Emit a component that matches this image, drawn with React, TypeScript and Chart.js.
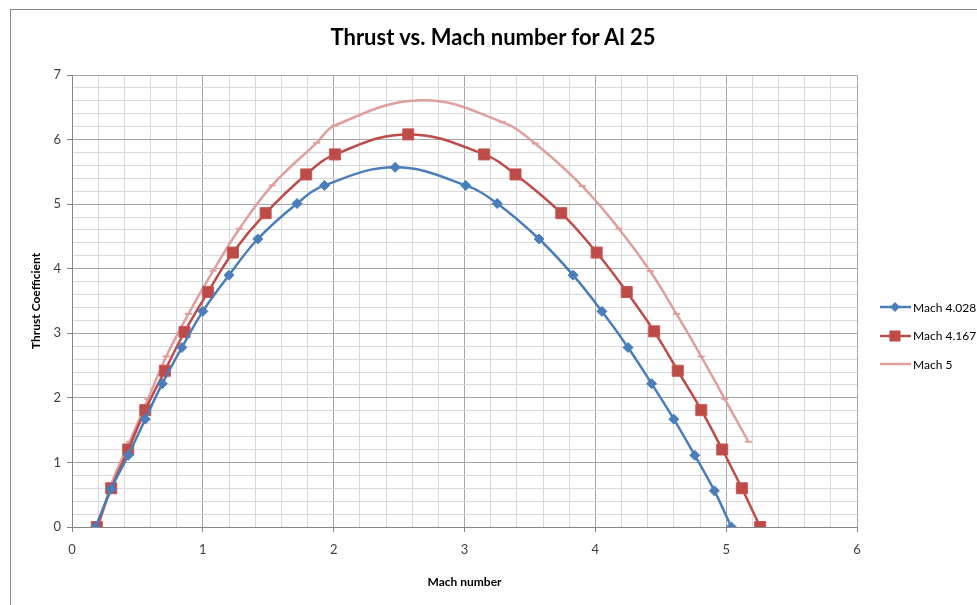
import React, { useEffect, useRef } from 'react';
import { Chart, registerables } from 'chart.js';

Chart.register(...registerables);

const TITLE = 'Thrust vs. Mach number for Al 25';
const X_TITLE = 'Mach number';
const Y_TITLE = 'Thrust Coefficient';
const SERIES_NAMES = ['Mach 4.028', 'Mach 4.167', 'Mach 5'];
const SERIES_COLORS = ['#4A7EBB', '#BE4B48', '#DE9F9D'];

const machA = [0.18, 0.3, 0.43, 0.56, 0.69, 0.84, 1.0, 1.2, 1.42, 1.72, 1.93, 2.47, 3.01, 3.25, 3.57, 3.83, 4.05, 4.25, 4.43, 4.6, 4.76, 4.91, 5.04];
const thrustA = [0, 0.59, 1.11, 1.67, 2.22, 2.78, 3.34, 3.9, 4.46, 5.01, 5.29, 5.57, 5.29, 5.01, 4.46, 3.9, 3.34, 2.78, 2.22, 1.67, 1.11, 0.56, 0];

const machB = [0.19, 0.3, 0.43, 0.56, 0.71, 0.86, 1.04, 1.23, 1.48, 1.79, 2.01, 2.57, 3.15, 3.39, 3.74, 4.01, 4.24, 4.45, 4.63, 4.81, 4.97, 5.12, 5.26];
const thrustB = [0, 0.6, 1.2, 1.81, 2.42, 3.02, 3.64, 4.25, 4.86, 5.46, 5.77, 6.08, 5.77, 5.46, 4.86, 4.25, 3.64, 3.03, 2.42, 1.81, 1.2, 0.6, 0];

const machC = [0.2, 0.3, 0.44, 0.58, 0.72, 0.89, 1.08, 1.28, 1.53, 1.87, 2.01, 2.67, 3.29, 3.54, 3.9, 4.18, 4.42, 4.62, 4.81, 4.99, 5.17];
const thrustC = [0, 0.66, 1.32, 1.98, 2.64, 3.3, 3.97, 4.62, 5.29, 5.95, 6.22, 6.61, 6.27, 5.94, 5.28, 4.62, 3.96, 3.3, 2.64, 1.98, 1.32];

const X_MIN = 0, X_MAX = 6, Y_MIN = 0, Y_MAX = 7, MINOR_STEP = 0.2;

const FONT = "Lato, 'Open Sans', sans-serif";

const isMajor = (v: number) => Math.abs(v - Math.round(v)) < 1e-6;

export default function App() {
  const ref = useRef<HTMLCanvasElement | null>(null);

  useEffect(() => {
    if (!ref.current) return;
    const toPts = (xs: number[], ys: number[]) => xs.map((x, i) => ({ x, y: ys[i] }));
    const gridColor = (ctx: any) => (ctx.tick && isMajor(ctx.tick.value) ? '#A6A6A6' : '#D9D9D9');
    const tickColor = (ctx: any) => (ctx.tick && isMajor(ctx.tick.value) ? '#868686' : 'rgba(0,0,0,0)');
    const label = (v: any) => (isMajor(Number(v)) ? String(Math.round(Number(v))) : '');

    const chart = new Chart(ref.current, {
      type: 'line',
      data: {
        datasets: [
          {
            label: SERIES_NAMES[0],
            data: toPts(machA, thrustA),
            borderColor: SERIES_COLORS[0],
            backgroundColor: SERIES_COLORS[0],
            borderWidth: 2.5,
            pointStyle: 'rectRot',
            pointRadius: 5,
            pointBorderWidth: 1,
            tension: 0.4,
          },
          {
            label: SERIES_NAMES[1],
            data: toPts(machB, thrustB),
            borderColor: SERIES_COLORS[1],
            backgroundColor: SERIES_COLORS[1],
            borderWidth: 2.5,
            pointStyle: 'rect',
            pointRadius: 7.8,
            pointBorderWidth: 1,
            pointBorderColor: '#C55A57',
            tension: 0.4,
          },
          {
            label: SERIES_NAMES[2],
            data: toPts(machC, thrustC),
            borderColor: SERIES_COLORS[2],
            backgroundColor: SERIES_COLORS[2],
            borderWidth: 2.5,
            pointStyle: 'line',
            pointRadius: 3.5,
            pointBorderWidth: 2,
            tension: 0.4,
          },
        ],
      },
      options: {
        responsive: false,
        animation: false,
        layout: { padding: { top: 75, right: 120, left: 0, bottom: 0 } },
        plugins: {
          legend: { display: false },
          title: { display: false },
          tooltip: { enabled: false },
        },
        scales: {
          x: {
            type: 'linear',
            min: X_MIN,
            max: X_MAX,
            afterFit: (s: any) => { s.height = 78; },
            ticks: {
              stepSize: MINOR_STEP,
              autoSkip: false,
              maxRotation: 0,
              padding: 10,
              color: '#404040',
              font: { family: FONT, size: 13 },
              callback: label,
            },
            grid: { color: gridColor, tickColor, tickLength: 5, lineWidth: 1 },
            border: { color: '#868686', width: 1 },
            title: {
              display: true,
              text: X_TITLE,
              color: '#000',
              font: { family: FONT, size: 12, weight: 'bold' },
              padding: { top: 0, bottom: 16 },
            },
          },
          y: {
            type: 'linear',
            min: Y_MIN,
            max: Y_MAX,
            afterFit: (s: any) => { s.width = 72; },
            ticks: {
              stepSize: MINOR_STEP,
              autoSkip: false,
              padding: 6,
              color: '#404040',
              font: { family: FONT, size: 13 },
              callback: label,
            },
            grid: { color: gridColor, tickColor, tickLength: 5, lineWidth: 1 },
            border: { color: '#868686', width: 1 },
            title: {
              display: true,
              text: Y_TITLE,
              color: '#000',
              font: { family: FONT, size: 12, weight: 'bold' },
              padding: { top: 29, bottom: 0 },
            },
          },
        },
      } as any,
    });
    return () => chart.destroy();
  }, []);

  const legendItems = SERIES_NAMES.map((name, i) => {
    const color = SERIES_COLORS[i];
    let marker: React.ReactNode = null;
    if (i === 0) marker = <polygon points="15,1 20,6 15,11 10,6" fill={color} />;
    if (i === 1) marker = <rect x={9.5} y={0.5} width={11} height={11} fill={color} />;
    return (
      <div key={name} style={{ position: 'absolute', left: 880, top: 298 + i * 28.5, height: 18, display: 'flex', alignItems: 'center' }}>
        <svg width={31} height={12} style={{ display: 'block' }}>
          <line x1={0} y1={6} x2={31} y2={6} stroke={color} strokeWidth={2.5} />
          {marker}
        </svg>
        <span style={{ marginLeft: 2, fontFamily: FONT, fontSize: 12, color: '#000', whiteSpace: 'nowrap' }}>{name}</span>
      </div>
    );
  });

  return (
    <div style={{ position: 'fixed', left: 0, top: 0, width: 977, height: 605, overflow: 'hidden', background: '#fff' }}>
      <div style={{ position: 'absolute', left: 10, top: 9, width: 1200, height: 900, borderLeft: '1px solid #878787', borderTop: '1px solid #878787' }} />
      <canvas ref={ref} width={977} height={605} style={{ position: 'absolute', left: 0, top: 0 }} />
      <div style={{ position: 'absolute', left: 493, top: 23, transform: 'translateX(-50%)', fontFamily: FONT, fontWeight: 'bold', fontSize: 22, color: '#000', whiteSpace: 'nowrap' }}>{TITLE}</div>
      {legendItems}
    </div>
  );
}
